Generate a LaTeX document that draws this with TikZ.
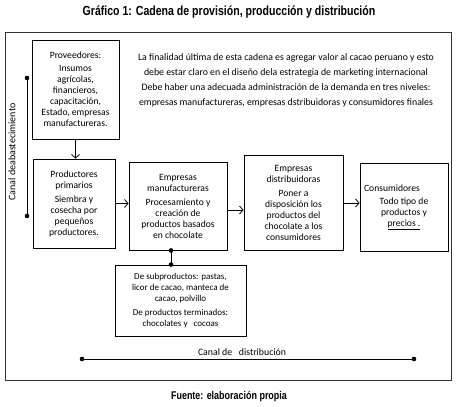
\documentclass[tikz,border=0pt]{standalone}
\usepackage{fontspec}
\setmainfont{Carlito}
\newfontfamily\titlefont[FakeStretch=0.8]{Liberation Sans Bold}
\usetikzlibrary{arrows.meta,calc}
\begin{document}
\begin{tikzpicture}[x=1pt,y=-1pt,
  box/.style={draw=black, line width=0.9pt, inner sep=0pt, align=center, font=\fontsize{9.6}{11}\selectfont},
  arr/.style={-{Straight Barb[length=3.5pt,width=8pt]}, line width=0.8pt},
  chan/.style={line width=0.8pt},
  blob/.style={fill=black, radius=2.3pt},
  txt/.style={font=\fontsize{9.8}{15}\selectfont, align=center, inner sep=0pt},
  captext/.style={font=\titlefont\fontsize{13.2}{15}\selectfont, inner sep=0pt}]
\useasboundingbox (0,0) rectangle (456,407);
\node[captext] (title) at (229,12) {Gráfico 1: Cadena de provisión, producción y distribución};
\node[draw=black!80, line width=0.8pt, minimum width=446pt, minimum height=348pt, inner sep=0pt] (frame) at (228,206) {};
\node[box, minimum width=87pt, minimum height=99pt] (prov) at (75.5,89.5)
  {Proveedores:\\[2pt] Insumos\\ agrícolas,\\ financieros,\\ capacitación,\\ Estado, empresas\\ manufactureras.};
\node[box, minimum width=82pt, minimum height=89pt] (prod) at (74,203.5)
  {Productores\\ primarios\\[3pt] Siembra y\\ cosecha por\\ pequeños\\ productores.};
\node[box, minimum width=98pt, minimum height=88pt] (manu) at (178,206)
  {Empresas\\ manufactureras\\[3pt] Procesamiento y\\ creación de\\ productos basados\\ en chocolate};
\node[box, minimum width=99pt, minimum height=95pt] (dist) at (293.5,202.5)
  {Empresas\\ distribuidoras\\[3pt] Poner a\\ disposición los\\ productos del\\ chocolate a los\\ consumidores};
\node[box, minimum width=88pt, minimum height=88pt] (cons) at (404,207)
  {Consumidores\hspace*{24pt}\\[2pt] Todo tipo de\\ productos y\\ \underline{precios .}};
\node[box, minimum width=131pt, minimum height=71pt, font=\fontsize{9}{11}\selectfont] (sub) at (180.5,300.5)
  {De subproductos: pastas,\\ licor de cacao, manteca de\\ cacao, polvillo\\[3pt] De productos terminados:\\ chocolates y\ \ \ cocoas};
\node[txt] (para) at (286,80)
  {La finalidad última de esta cadena es agregar valor al cacao peruano y esto\\
   debe estar claro en el diseño dela estrategia de marketing internacional\\
   Debe haber una adecuada administración de la demanda en tres niveles:\\
   empresas manufactureras, empresas dstribuidoras y consumidores finales};
% arrows
\draw[arr] (prov.south) -- (prov.south |- prod.north);
\draw[arr] (prod.east) -- (prod.east -| manu.west);
\draw[arr] ([yshift=-4pt]manu.east) -- ([yshift=-4pt]manu.east -| dist.west);
\draw[arr] ([yshift=-0.5pt]dist.east) -- ([yshift=-0.5pt]dist.east -| cons.west);
% manufactureras to subproductos
\coordinate (m1) at ([xshift=-7pt]manu.south);
\coordinate (m2) at ([xshift=-7pt]manu.south |- sub.north);
\draw[chan] (m1) -- (m2);
\fill[blob] (m1) circle; \fill[blob] (m2) circle;
% canal de abastecimiento
\coordinate (a1) at (27,78);
\coordinate (a2) at (27,216);
\draw[chan] (a1) -- (a2);
\fill[blob] (a1) circle; \fill[blob] (a2) circle;
\node[txt, rotate=90, font=\fontsize{10}{12}\selectfont] (abas) at (12,152) {Canal deabastecimiento};
% canal de distribucion
\coordinate (d1) at (82,359);
\coordinate (d2) at (414,359);
\draw[chan] (d1) -- (d2);
\fill[blob] (d1) circle; \fill[blob] (d2) circle;
\node[txt] (distlab) at (242,352) {Canal de\ \ \ distribución};
\node[captext, font=\titlefont\fontsize{11.2}{13}\selectfont] (src) at (229,397) {Fuente: elaboración propia};
\end{tikzpicture}
\end{document}
